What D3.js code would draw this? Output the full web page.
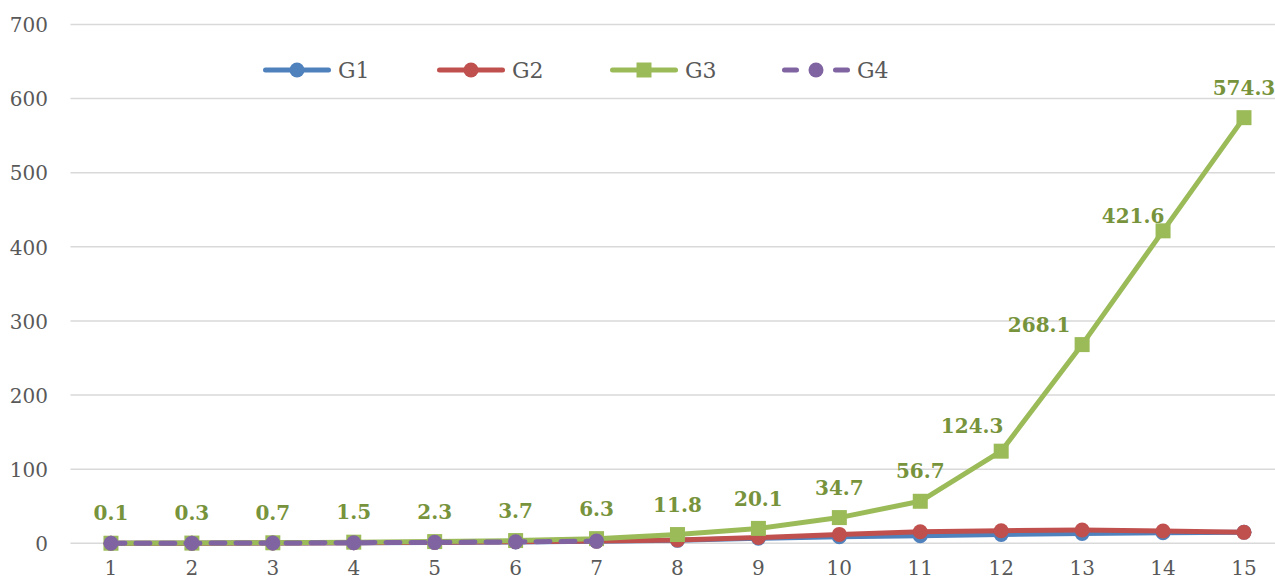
<!DOCTYPE html>
<html>
<head>
<meta charset="utf-8">
<script src="https://cdn.jsdelivr.net/npm/d3@7"></script>
<style>
html,body{margin:0;padding:0;background:#fff;overflow:hidden;}
svg{display:block;}
</style>
</head>
<body>
<svg id="chart" width="1275" height="582"></svg>
<script>
const categories = [1,2,3,4,5,6,7,8,9,10,11,12,13,14,15];
const seriesNames = ["G1","G2","G3","G4"];
const g1 = [0.1,0.2,0.4,0.7,1.2,1.9,2.8,4.0,6.8,9.0,10.3,12.0,13.2,14.2,15.0];
const g2 = [0.1,0.2,0.5,0.9,1.4,2.1,3.0,4.5,7.8,12.0,15.6,17.0,18.0,16.6,14.8];
const g3 = [0.1,0.3,0.7,1.5,2.3,3.7,6.3,11.8,20.1,34.7,56.7,124.3,268.1,421.6,574.3];
const g4 = [0.1,0.2,0.4,0.8,1.3,2.0,3.0];
const g3Labels = ["0.1","0.3","0.7","1.5","2.3","3.7","6.3","11.8","20.1","34.7","56.7","124.3","268.1","421.6","574.3"];
const yTicks = [0,100,200,300,400,500,600,700];
const colors = ["#4F81BD","#C0504D","#9BBB59","#8064A2"];
// label nudges (dx, dy) relative to default "above" placement
const labelNudgeX = [0,0,0,0,0,0,0,0,0,0,0,-29,-43,-30,0];
const labelNudgeY = [0,0,0,0,0,0,0,0,0,0,0,5,10,15,0];

const svg = d3.select("#chart");
const left = 70.5, bandW = 80.93;
const x = d3.scaleBand().domain(categories).range([left, left + bandW*categories.length]).padding(0);
const y = d3.scaleLinear().domain([0,700]).range([543.3, 24.5]);
const cx = d => x(d) + x.bandwidth()/2;

// gridlines
svg.append("g").selectAll("line").data(yTicks).join("line")
  .attr("x1", left).attr("x2", left + bandW*categories.length)
  .attr("y1", d => y(d)).attr("y2", d => y(d))
  .attr("stroke", "#D9D9D9").attr("stroke-width", 1.5);

// y axis labels
const yAxis = d3.axisLeft(y).tickValues(yTicks).tickSize(0).tickPadding(0).tickFormat(d3.format("d"));
const ya = svg.append("g").attr("transform", "translate(48,0)").call(yAxis);
ya.select(".domain").remove();
ya.selectAll("text").attr("font-family","DejaVu Serif").attr("font-size","20px").attr("fill","#595959").attr("dy","0.36em");

// x axis labels
const xAxis = d3.axisBottom(x).tickSize(0).tickPadding(0);
const xa = svg.append("g").attr("transform", "translate(0,561)").call(xAxis);
xa.select(".domain").remove();
xa.selectAll("text").attr("font-family","DejaVu Serif").attr("font-size","20px").attr("fill","#595959").attr("dy","0.71em");

const allData = [g1,g2,g3,g4];
const line = d3.line().x((d,i) => cx(categories[i])).y(d => y(d));

allData.forEach((data, si) => {
  const g = svg.append("g");
  g.append("path").datum(data)
    .attr("d", line)
    .attr("fill","none")
    .attr("stroke", colors[si])
    .attr("stroke-width", 5)
    .attr("stroke-linejoin","round")
    .attr("stroke-linecap","round")
    .attr("stroke-dasharray", si === 3 ? "14,11" : null);
  if (si === 2) {
    g.selectAll("rect").data(data).join("rect")
      .attr("x", (d,i) => cx(categories[i]) - 7.5)
      .attr("y", d => y(d) - 7.5)
      .attr("width", 15).attr("height", 15)
      .attr("fill", colors[si]);
  } else {
    g.selectAll("circle").data(data).join("circle")
      .attr("cx", (d,i) => cx(categories[i]))
      .attr("cy", d => y(d))
      .attr("r", 7.5)
      .attr("fill", colors[si]);
  }
});

// data labels for G3
svg.append("g").selectAll("text").data(g3).join("text")
  .attr("x", (d,i) => cx(categories[i]) + labelNudgeX[i])
  .attr("y", (d,i) => y(d) - 30 + labelNudgeY[i])
  .attr("text-anchor","middle")
  .attr("dy","0.36em")
  .attr("font-family","DejaVu Serif")
  .attr("font-weight","bold")
  .attr("font-size","20px")
  .attr("fill","#77933C")
  .text((d,i) => g3Labels[i]);

// legend
const legendX = [263, 437, 610, 782];
const leg = svg.append("g");
seriesNames.forEach((name, si) => {
  const lx = legendX[si], ly = 70;
  const gi = leg.append("g");
  gi.append("line").attr("x1", lx + 2.5).attr("x2", lx + 65.5).attr("y1", ly).attr("y2", ly)
    .attr("stroke", colors[si]).attr("stroke-width", 5).attr("stroke-linecap","round")
    .attr("stroke-dasharray", si === 3 ? "12,39" : null);
  if (si === 2) {
    gi.append("rect").attr("x", lx + 34 - 7.5).attr("y", ly - 7.5).attr("width", 15).attr("height", 15).attr("fill", colors[si]);
  } else {
    gi.append("circle").attr("cx", lx + 34).attr("cy", ly).attr("r", 7.5).attr("fill", colors[si]);
  }
  gi.append("text").attr("x", lx + 75).attr("y", ly).attr("dy","0.36em")
    .attr("font-family","DejaVu Serif").attr("font-size","22px").attr("fill","#595959").text(name);
});
</script>
</body>
</html>
